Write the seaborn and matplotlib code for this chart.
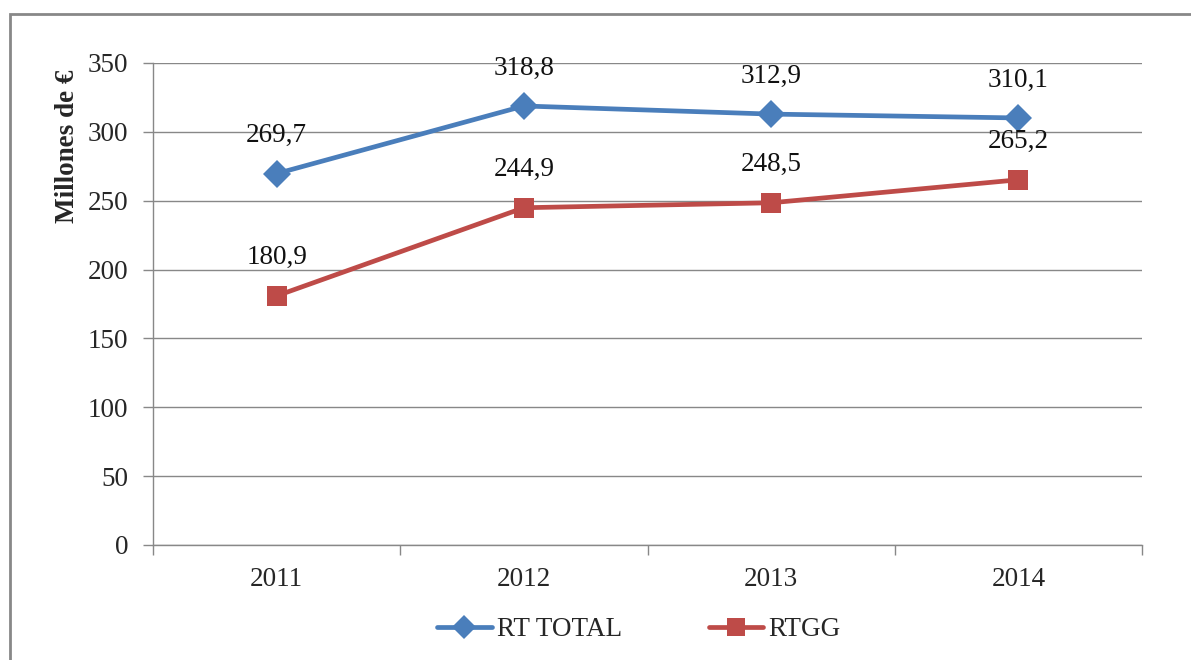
import matplotlib
matplotlib.use("Agg")
import matplotlib.pyplot as plt
import matplotlib.patches as mpatches
import seaborn as sns
import pandas as pd
import numpy as np

years = ["2011", "2012", "2013", "2014"]
rt_total = [269.7, 318.8, 312.9, 310.1]
rtgg = [180.9, 244.9, 248.5, 265.2]
series_names = ["RT TOTAL", "RTGG"]
y_label = "Millones de €"

sns.set_theme(style="white")
plt.rcParams['font.family'] = ['Liberation Serif', 'DejaVu Serif']

FS = 19.5
W, H = 1191, 660
fig = plt.figure(figsize=(W/100, H/100), dpi=100)
ax = fig.add_axes([153/W, 1-545/H, (1142-153)/W, (545-63)/H])

df = pd.DataFrame({
    "x": list(range(len(years))) * 2,
    "value": rt_total + rtgg,
    "series": [series_names[0]] * len(years) + [series_names[1]] * len(years),
})
colors = {"RT TOTAL": "#4A7EBB", "RTGG": "#BE4B48"}
markers = {"RT TOTAL": "D", "RTGG": "s"}
msizes = {"RT TOTAL": 14, "RTGG": 15}
for name in series_names:
    sub = df[df.series == name]
    sns.lineplot(data=sub, x="x", y="value", ax=ax, color=colors[name],
                 linewidth=3.4, marker=markers[name], markersize=msizes[name],
                 markeredgewidth=0, label=name, legend=False)
    for xv, yv in zip(sub.x, sub.value):
        ax.annotate(f"{yv:.1f}".replace(".", ","), (xv, yv), xytext=(0, 38),
                    textcoords="offset pixels", ha="center", va="center",
                    fontsize=FS, color="#111111")

ax.set_xlim(-0.5, len(years) - 0.5)
ax.set_ylim(0, 350)
ax.set_yticks(np.arange(0, 351, 50))
ax.set_yticklabels([str(v) for v in range(0, 351, 50)], fontsize=FS)
ax.set_xticks(range(len(years)))
ax.set_xticklabels(years, fontsize=FS)
ax.set_xticks(np.arange(-0.5, len(years), 1.0), minor=True)
ax.tick_params(axis="x", which="major", length=0, pad=16, bottom=True)
ax.tick_params(axis="x", which="minor", length=7, width=1, color="#888888",
               direction="out", bottom=True)
ax.tick_params(axis="y", length=7, width=1, color="#888888", direction="out",
               pad=11, left=True)
ax.set_xlabel("")
ax.set_ylabel("")
ax.grid(axis="y", color="#888888", linewidth=1)
ax.set_axisbelow(True)
for s in ["top", "right"]:
    ax.spines[s].set_visible(False)
for s in ["left", "bottom"]:
    ax.spines[s].set_color("#888888")
    ax.spines[s].set_linewidth(1)

fig.text(68/W, 1-146/H, y_label, rotation=90, ha="center", va="center",
         fontsize=FS, fontweight="bold")

handles = [plt.Line2D([], [], color=colors[n], linewidth=3.4, marker=markers[n],
                      markersize=msizes[n]-2, markeredgewidth=0) for n in series_names]
fig.legend(handles, series_names, loc="center", bbox_to_anchor=(639/W, 1-630/H),
           ncol=2, frameon=False, fontsize=FS, handlelength=2.0,
           columnspacing=3.2, handletextpad=0.2)

border = mpatches.Rectangle((10/W, -0.2), 1.2, 1.2 - 14/H, transform=fig.transFigure,
                            fill=False, edgecolor="#888888", linewidth=2)
fig.patches.append(border)

fig.savefig("out.png", dpi=100)
